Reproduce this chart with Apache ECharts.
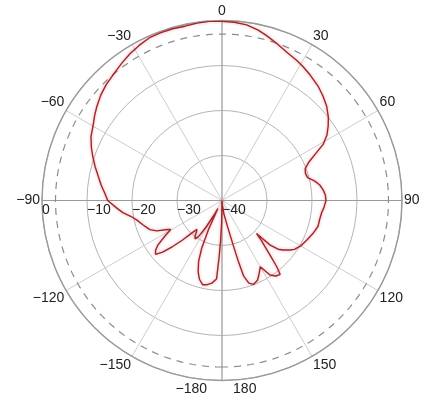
<!DOCTYPE html>
<html>
<head>
<meta charset="utf-8">
<script src="https://cdn.jsdelivr.net/npm/echarts/dist/echarts.min.js"></script>
<style>
  html, body { margin: 0; padding: 0; background: #ffffff; }
  #chart { width: 423px; height: 405px; }
</style>
</head>
<body>
<div id="chart"></div>
<script>
// Radiation pattern: azimuth angle (deg, clockwise from 0 at top) and gain (dB)
const angles = [
  -180, -179, -178, -177, -176, -173, -170, -167, -164, -161.5, -159, -157, -155, -153,
  -151, -149, -147, -145, -143, -141, -139, -137, -135, -133, -131, -129, -127, -125,
  -122, -119.5, -118, -115, -112, -107, -103, -100, -97, -94, -90, -86, -83, -79, -75,
  -71, -68, -64, -60, -56, -53, -49, -45, -40, -36, -32, -28, -24, -20, -16, -12, -8,
  -4, 0, 4, 8, 12, 15, 19, 24, 28, 31, 35, 40, 44, 48, 52, 55, 58, 61, 63.5, 66, 69,
  72, 75, 78, 81, 84, 87, 90, 94, 97, 101, 105, 110, 115, 120, 124, 126, 129, 131,
  132.8, 133.7, 135.5, 137, 138.6, 140.4, 141.8, 144.5, 147.2, 150, 153, 156, 159.5,
  162, 164, 165, 166, 168, 172, 176, 180
];
const gainDb = [
  -40, -35, -31, -27, -22.5, -21.5, -21, -20.8, -21.8, -23.3, -25.5, -28.4, -33, -38,
  -36, -33, -30.5, -29.6, -30, -31, -31.5, -30, -27.5, -25, -22.5, -21, -21.5, -22.5,
  -25, -26.9, -26.3, -24, -22.7, -21.6, -20.6, -19.5, -17.8, -16.5, -14.6, -13.8, -13.0,
  -12.0, -10.8, -9.6, -8.7, -7.6, -6.9, -5.9, -5.2, -4.3, -3.6, -2.9, -2.2, -1.5, -0.9,
  -0.4, -0.3, -0.3, -0.4, -0.2, -0.1, -0.2, -0.3, -0.6, -1.3, -2.0, -3.0, -4.1, -4.7,
  -5.2, -5.9, -6.8, -7.7, -8.7, -10.0, -11.2, -12.5, -14.3, -16.8, -18.8, -20.2, -20.5,
  -20.3, -19.0, -18.0, -17.4, -17.0, -16.9, -17.3, -17.7, -17.9, -17.9, -18.5, -19.2,
  -19.8, -20.6, -21.3, -22.5, -23.5, -25.4, -29.4, -27.5, -26, -23.9, -20.9, -19.1,
  -19.4, -20.3, -23, -21.8, -20.6, -20.1, -20.7, -22.5, -26, -30, -34, -37, -39, -40
];

// Scale: gain rings in dB and the -3 dB reference level
const gainMin = -40;
const gainMax = 0;
const gainStep = 10;
const halfPowerLevel = -3;
const angleStep = 30;

// Points of the -3 dB reference circle
const refAngles = [];
for (let a = -180; a <= 180; a += 2) refAngles.push(a);

const minus = s => String(s).replace('-', '\u2212');
const font = 'Arial, "Liberation Sans", sans-serif';

const chart = echarts.init(document.getElementById('chart'), null, { renderer: 'canvas' });

chart.setOption({
  animation: false,
  backgroundColor: '#ffffff',
  polar: [
    { center: [222, 200.5], radius: 180 },
    { center: [222, 200.5], radius: 180 }
  ],
  angleAxis: [
    {
      polarIndex: 0,
      type: 'value',
      min: -180,
      max: 180,
      interval: angleStep,
      startAngle: 270,
      clockwise: true,
      axisLine: { lineStyle: { color: '#9a9a9a', width: 1.4 } },
      axisTick: { show: false },
      splitLine: { lineStyle: { color: '#cdcdcd', width: 1 } },
      axisLabel: {
        margin: 2,
        color: '#222',
        fontFamily: font,
        fontSize: 14,
        formatter: v => (v === -180 || v === 180) ? '{l|\u2212180}{g|}{r|180}{s|}' : minus(v),
        rich: {
          l: { fontFamily: font, fontSize: 14, color: '#222' },
          g: { width: 26 },
          r: { fontFamily: font, fontSize: 14, color: '#222' },
          s: { width: 12 }
        }
      }
    },
    {
      polarIndex: 1,
      type: 'value',
      min: 0,
      max: 360,
      interval: 90,
      startAngle: 180,
      axisLine: { show: false },
      axisTick: { show: false },
      axisLabel: { show: false },
      splitLine: { lineStyle: { color: '#9a9a9a', width: 1 } }
    }
  ],
  radiusAxis: [
    {
      polarIndex: 0,
      type: 'value',
      min: gainMin,
      max: gainMax,
      interval: gainStep,
      axisLine: { show: false },
      axisTick: { show: false },
      axisLabel: { show: false },
      splitLine: { lineStyle: { color: '#b5b5b5', width: 1 } }
    },
    {
      polarIndex: 1,
      type: 'value',
      min: gainMin,
      max: gainMax,
      interval: gainStep,
      axisLine: { show: false },
      axisTick: { show: false },
      splitLine: { show: false },
      axisLabel: {
        margin: 3,
        color: '#222',
        fontFamily: font,
        fontSize: 14,
        align: 'left',
        verticalAlign: 'top',
        formatter: v => minus(v)
      }
    }
  ],
  series: [
    {
      type: 'line',
      coordinateSystem: 'polar',
      polarIndex: 0,
      showSymbol: false,
      silent: true,
      data: refAngles.map(a => [halfPowerLevel, a]),
      lineStyle: { color: '#8c8c8c', width: 1.2, type: [7, 6] },
      z: 2
    },
    {
      type: 'line',
      coordinateSystem: 'polar',
      polarIndex: 0,
      showSymbol: false,
      silent: true,
      data: angles.map((a, i) => [gainDb[i], a]),
      lineStyle: { color: '#a0262e', width: 1.4, shadowColor: 'rgba(240,90,90,0.6)', shadowBlur: 3 },
      z: 5
    }
  ]
});
</script>
</body>
</html>
